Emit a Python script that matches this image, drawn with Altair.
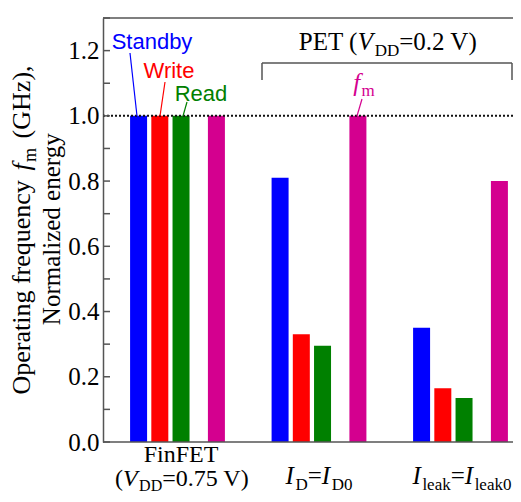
import altair as alt
import pandas as pd

# ---------------- data ----------------
groups = ["FinFET", "ID=ID0", "Ileak=Ileak0"]
series = ["Standby", "Write", "Read", "fm"]
series_colors = ["#0000ff", "#ff0000", "#008000", "#d4008f"]
standby = [1.0, 0.81, 0.35]
write = [1.0, 0.33, 0.165]
read = [1.0, 0.295, 0.135]
fm = [1.0, 1.0, 0.80]
y_ticks = [0.0, 0.1, 0.2, 0.3, 0.4, 0.5, 0.6, 0.7, 0.8, 0.9, 1.0, 1.1, 1.2, 1.3]
ref_level = [1.0]
# sub-slots inside each group (unequal spacing: wider gap before fm)
slots = ["Standby", "_1", "_2", "Write", "_3", "_4", "Read", "_5", "_6", "_7", "_8", "fm"]

rows = []
for s, vals in zip(series, [standby, write, read, fm]):
    for g, v in zip(groups, vals):
        rows.append({"group": g, "series": s, "value": v})
bars_df = pd.DataFrame(rows)
ticks_df = pd.DataFrame({"tick": y_ticks})
ref_df = pd.DataFrame({"ref": ref_level})

# ---------------- layout constants ----------------
W, H = 410, 424
OX, OY = 103, 18
SERIF = "Liberation Serif"
SANS = "Liberation Sans"
MAIN, SUB = 25, 17
AXC = "#555555"
MAG = "#d4008f"

REG = {' ': 250, '(': 333, ')': 333, '=': 564, '.': 250, ',': 250, '0': 500, '2': 500,
       '5': 500, '7': 500, 'D': 722, 'E': 611, 'F': 556, 'G': 722, 'H': 722, 'I': 333,
       'P': 556, 'T': 611, 'V': 722, 'N': 722, 'O': 722, 'a': 444, 'c': 444, 'd': 500,
       'e': 444, 'f': 333, 'g': 500, 'i': 278, 'k': 500, 'l': 278, 'm': 778, 'n': 500,
       'o': 500, 'p': 500, 'q': 500, 'r': 333, 't': 278, 'u': 500, 'y': 500, 'z': 444}
ITA = {'I': 333, 'V': 611, 'f': 278}


def seg_width(text, kind, main, sub):
    size = sub if kind == "s" else main
    table = ITA if kind == "i" else REG
    w = sum(table.get(c, 500) for c in text) * size / 1000
    if kind == "i":
        w += 1.5
    return w


def layout(segs, center, base, rotated=False, color="black", sub_shift=6,
           main=MAIN, sub=SUB, gaps=None):
    gaps = gaps or [0] * len(segs)
    total = sum(seg_width(t, k, main, sub) for t, k in segs) + sum(gaps)
    pos = center + total / 2 if rotated else center - total / 2
    out = []
    sgn = -1 if rotated else 1
    for (t, k), g in zip(segs, gaps):
        size = sub if k == "s" else main
        shift = sub_shift if k == "s" else 0
        pos += sgn * g
        lead = len(t) - len(t.lstrip(" "))
        if lead:
            pos += sgn * seg_width(" " * lead, k, main, sub)
            t = t.lstrip(" ")
        w = seg_width(t, k, main, sub)
        if rotated:
            out.append(dict(text=t, x=base + shift - OX, y=pos - OY, size=size,
                            color=color, angle=270, italic=(k == "i")))
        else:
            out.append(dict(text=t, x=pos - OX, y=base + shift - OY, size=size,
                            color=color, angle=0, italic=(k == "i")))
        pos += sgn * w
    return out


texts = []
texts += layout([("Operating frequency ", "n"), ("f", "i"), ("m", "s"), (" (GHz),", "n")], 230, 30,
                rotated=True, main=26, sub=18, gaps=[0, 3, 0, 3])
texts += layout([("Normalized energy", "n")], 229, 60, rotated=True)
texts += layout([("PET (", "n"), ("V", "i"), ("DD", "s"), ("=0.2 V)", "n")], 388, 50)
texts += layout([("FinFET", "n")], 181, 462, main=24)
texts += layout([("(", "n"), ("V", "i"), ("DD", "s"), ("=0.75 V)", "n")], 182, 486, main=24, sub=16, sub_shift=5)
texts += layout([("I", "i"), ("D", "s"), ("=", "n"), ("I", "i"), ("D0", "s")], 319, 484)
texts += layout([("I", "i"), ("leak", "s"), ("=", "n"), ("I", "i"), ("leak0", "s")], 462, 484)
texts += layout([("f", "i"), ("m", "s")], 364, 91, color=MAG, sub_shift=5)
texts_df = pd.DataFrame(texts)

sans_df = pd.DataFrame({
    "text": ["Standby", "Write", "Read"],
    "x": [152 - OX, 169 - OX, 201 - OX],
    "y": [49 - OY, 78 - OY, 101 - OY],
    "color": series_colors[:3],
})

lines_df = pd.DataFrame([
    dict(x=130, y=53, x2=137, y2=116, color="#0000ff", sw=1.2),
    dict(x=165, y=82, x2=160, y2=116, color="#ff0000", sw=1.2),
    dict(x=187, y=102, x2=183, y2=116, color="#008000", sw=1.2),
    dict(x=362, y=99, x2=357, y2=116, color=MAG, sw=1.2),
    dict(x=262, y=63, x2=512, y2=63, color=AXC, sw=1.5),
    dict(x=262, y=63, x2=262, y2=80, color=AXC, sw=1.5),
    dict(x=512, y=63, x2=512, y2=80, color=AXC, sw=1.5),
])
lines_df[["x", "x2"]] -= OX
lines_df[["y", "y2"]] -= OY

# ---------------- chart ----------------
yscale = alt.Scale(domain=[0, 1.3], nice=False, zero=True)
yaxis = alt.Axis(values=y_ticks,
                 labelExpr="abs(round(datum.value*10) % 2) == 0 ? format(datum.value, '.1f') : ''",
                 ticks=False, domain=True, domainColor=AXC, domainWidth=1.5, labelFont=SERIF,
                 labelFontSize=MAIN, labelColor="black", labelPadding=4, grid=False,
                 title=None, labelOverlap=False)

bars = alt.Chart(bars_df).mark_bar(width=17).encode(
    x=alt.X("group:N", sort=groups,
            scale=alt.Scale(domain=groups, range=[3.75, 428.25], paddingInner=0, paddingOuter=0),
            axis=None),
    xOffset=alt.XOffset("series:N", scale=alt.Scale(domain=slots, paddingInner=0, paddingOuter=0,
                                                    range=[28.3, 113.2])),
    y=alt.Y("value:Q", scale=yscale, axis=yaxis),
    color=alt.Color("series:N", scale=alt.Scale(domain=series, range=series_colors), legend=None),
)

tick_marks = alt.Chart(ticks_df).mark_rule(color=AXC, strokeWidth=1.5).encode(
    y=alt.Y("tick:Q", scale=yscale, axis=yaxis),
    x=alt.value(0), x2=alt.value(7),
)

ref_line = alt.Chart(ref_df).mark_rule(color="#111111", strokeWidth=2, strokeDash=[2, 2]).encode(
    y=alt.Y("ref:Q", scale=yscale, axis=yaxis),
    x=alt.value(0), x2=alt.value(W),
)

top_border = alt.Chart(ref_df).mark_rule(color=AXC, strokeWidth=1.5).encode(
    x=alt.value(0), x2=alt.value(W), y=alt.value(0))
bottom_border = alt.Chart(ref_df).mark_rule(color=AXC, strokeWidth=1.5).encode(
    x=alt.value(0), x2=alt.value(W), y=alt.value(H))

lines = alt.Chart(lines_df).mark_rule().encode(
    x=alt.X("x:Q", scale=None, axis=None), y=alt.Y("y:Q", scale=None, axis=None),
    x2="x2:Q", y2="y2:Q",
    color=alt.Color("color:N", scale=None),
    strokeWidth=alt.StrokeWidth("sw:Q", scale=None),
)


def text_layer(df, italic):
    return alt.Chart(df).mark_text(font=SERIF, align="left", baseline="alphabetic",
                                   fontStyle="italic" if italic else "normal").encode(
        x=alt.X("x:Q", scale=None, axis=None), y=alt.Y("y:Q", scale=None, axis=None),
        text="text:N",
        size=alt.Size("size:Q", scale=None),
        color=alt.Color("color:N", scale=None),
        angle=alt.Angle("angle:Q", scale=None),
    )


serif_normal = text_layer(texts_df[~texts_df["italic"]], False)
serif_italic = text_layer(texts_df[texts_df["italic"]], True)

sans_text = alt.Chart(sans_df).mark_text(font=SANS, fontSize=22, align="center", baseline="alphabetic").encode(
    x=alt.X("x:Q", scale=None, axis=None), y=alt.Y("y:Q", scale=None, axis=None),
    text="text:N", color=alt.Color("color:N", scale=None),
)

chart = alt.layer(
    bars, ref_line, tick_marks, top_border, bottom_border, lines,
    serif_normal, serif_italic, sans_text,
).properties(
    width=W, height=H,
    padding={"left": 95, "top": 10, "right": 0, "bottom": 52},
    autosize=alt.AutoSizeParams(type="none"),
).configure_view(stroke=None)

chart.save("out.html", embed_options={"renderer": "svg", "actions": False})
